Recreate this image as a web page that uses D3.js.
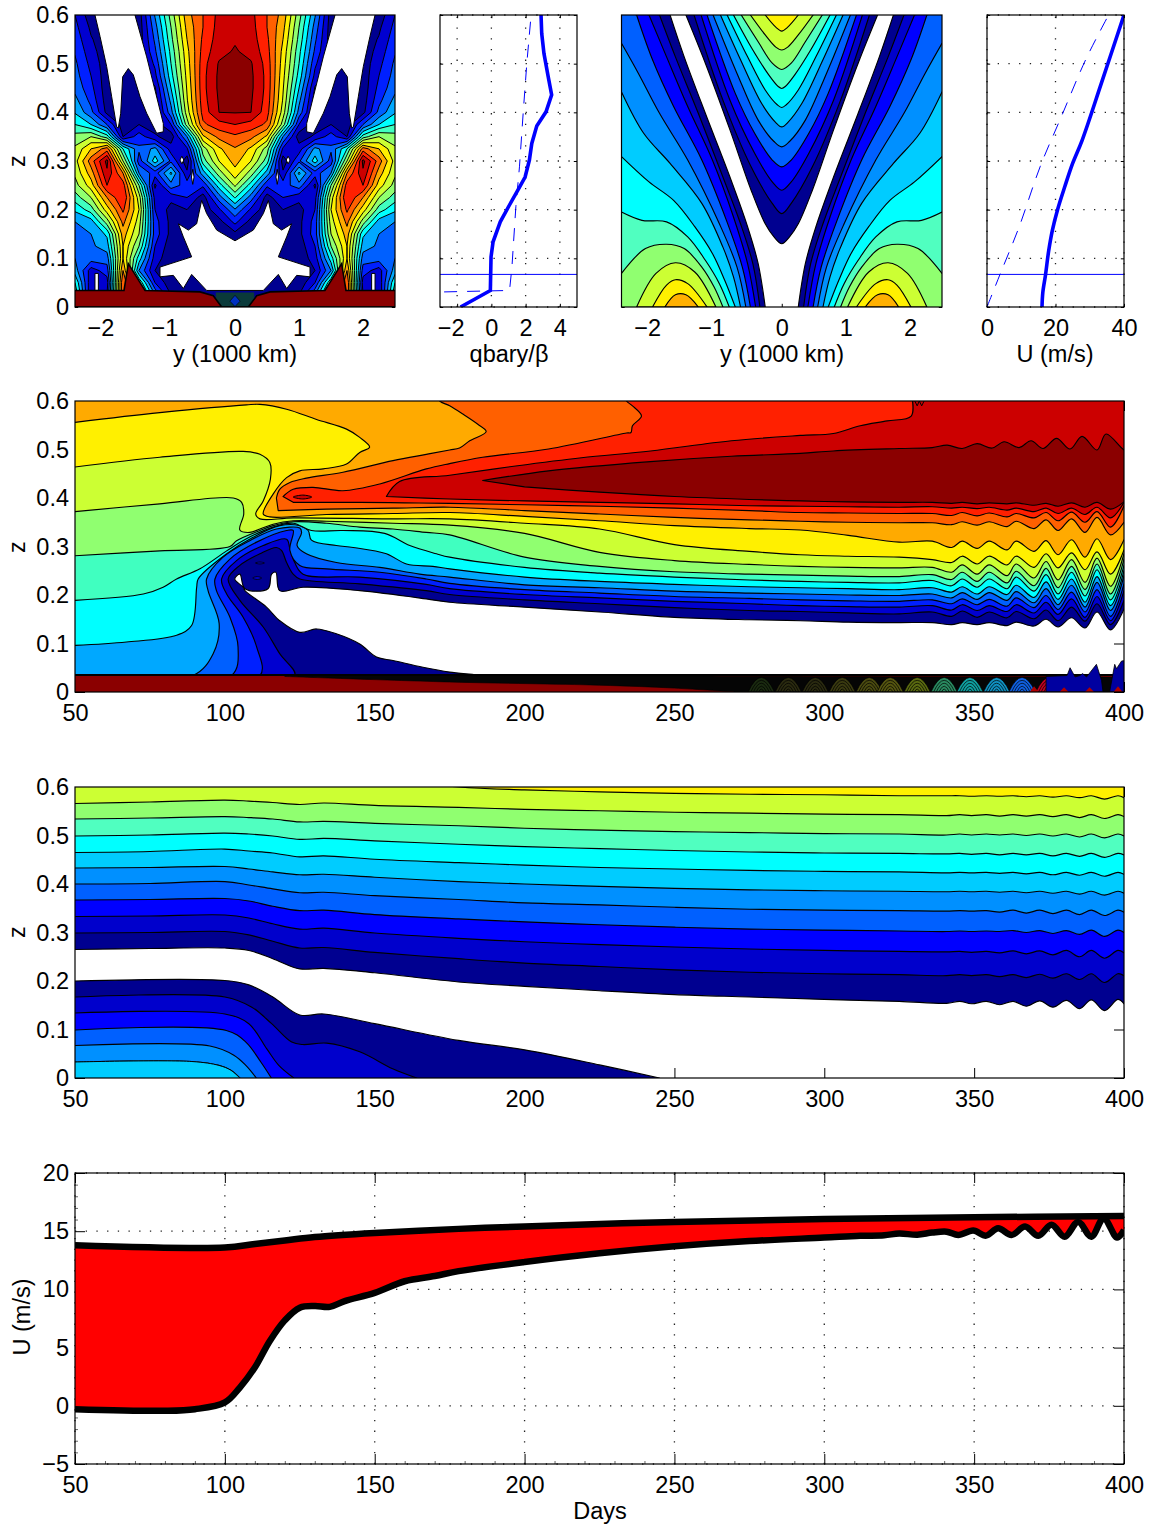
<!DOCTYPE html>
<html><head><meta charset="utf-8">
<script src="https://cdnjs.cloudflare.com/ajax/libs/d3/7.8.5/d3.min.js"></script>
<style>html,body{margin:0;padding:0;background:#fff}svg{display:block}
text{font-family:"Liberation Sans",Arial,sans-serif;fill:#000}</style></head><body>
<svg id="c" width="1152" height="1527"></svg>
<script>
// ---------- palettes ----------
const jetA=['#000090','#0000d0','#0020ff','#0060ff','#00a8ff','#00ffff','#40ffc0','#90ff70','#ccff33','#fff000','#ffaa00','#ff6000','#ff2000','#cc0000','#8b0000'];
const jetB=['#000090','#0000cc','#0000ff','#0060ff','#0090ff','#00ccff','#00ffff','#50ffc0','#90ff70','#ccff33','#fff000','#ffb000'];
// ---------- tick labels ----------
const zTicks=[0,.1,.2,.3,.4,.5,.6], yTicks=[-2,-1,0,1,2], qTicks=[-2,0,2,4], uTicks=[0,20,40];
const dayTicks=[50,100,150,200,250,300,350,400], uTicksG=[-5,0,5,10,15,20];
// ---------- panel A field: contour level at half-domain y (2.5..0) per z row ----------
const fieldAYs=[2.5,2.25,2,1.75,1.5,1.25,1,.75,.5,.25,0];
const fieldAZs=[.025,.05,.075,.1,.125,.15,.175,.2,.225,.25,.275,.3,.325,.35,.375,.4,.425,.45,.475,.5,.525,.55,.575,.6];
const fieldA=[
[8,2,3,13,10,5,2,1.4,1.6,1.3,1.2],
[7,2.2,2.5,13,8,3,1.3,1.3,1.3,1.3,1.2],
[5.5,2.5,3.5,12,5,2,1.3,1.3,1.3,1.3,1.2],
[5,4.5,4.5,11,6.5,2.5,1.3,1.3,1.3,1.3,1.2],
[4.6,4.8,5.5,11,8,3,1.4,1.3,1.3,1.3,1.2],
[4.6,5,6.2,11.5,9,3.5,1.7,1.3,1.2,1.3,1.7],
[5,5.5,8.5,12.3,9.5,3.4,1.7,1.3,1.2,1.6,3.3],
[6.2,7.5,10.5,13.2,10,3,1.6,2,1.3,2.8,4.9],
[7.5,9,12,14,9.5,2.6,2.3,3,1.5,4.5,7.1],
[8.6,10.5,14,13.5,8,1.8,4.6,3.5,3.2,6.5,9.2],
[9.2,11.5,14.8,12,5,3.5,6.2,2.2,5.5,8.5,10.6],
[9.6,12.5,15.3,9,3.5,6.5,3.8,1.4,7.5,10,11.4],
[9.2,11,12.5,7,4.2,5.3,2.5,2.8,8.5,10.8,11.9],
[8.4,9,7.5,2,3.5,2.2,1.4,5,10.8,12.3,12.8],
[7,6,4,1.4,2,1.4,3,8.5,12.8,13.6,14],
[5.9,4.3,1.7,1.3,1.6,1.3,4.6,9.5,13.4,15,15.05],
[5.3,3.7,1.5,1.4,1.4,1.5,5.3,9.9,13.6,15.1,15.3],
[4.7,3.3,1.4,1.4,1.4,1.9,6,10.1,13.7,15.2,15.4],
[4.4,3,1.4,1.4,1.4,2.7,6.6,10.3,13.7,15.2,15.4],
[4.2,2.7,1.4,1.4,1.4,3.2,7,10.5,13.6,15.1,15.3],
[3.9,2.4,1.3,1.3,1.4,3.8,7.3,10.7,13.4,14.7,15.1],
[3.6,2.1,1.3,1.3,1.4,4.2,7.7,11,13.2,14.5,14.9],
[3.3,1.8,1.3,1.3,1.4,4.6,8,11.3,13,14.4,14.7],
[3,1.4,1.3,1.3,1.5,5.1,8.4,11.6,13,14.3,14.6]];
const whiteTongue=[[-2.188,.61],[-2.188,.6],[-2.109,.556],[-2.005,.494],[-1.927,.432],[-1.849,.37],[-1.823,.368],[-1.786,.398],[-1.755,.473],[-1.667,.49],[-1.589,.477],[-1.484,.432],[-1.38,.398],[-1.224,.357],[-1.12,.36],[-1.12,.377],[-1.38,.514],[-1.563,.6],[-1.563,.61]];
const whiteStarHalf=[[0,.136],[-.286,.158],[-.443,.192],[-.521,.219],[-.599,.171],[-.729,.158],[-.885,.171],[-.807,.144],[-.677,.103],[-1.172,.082],[-1.172,.062],[-.964,.065],[-.807,.038],[-.677,.067],[-.443,.034],[0,.034]];
const whiteSmall=[[[-.86,.302],[-.83,.31],[-.8,.302],[-.83,.294]],[[-.68,.267],[-.66,.283],[-.64,.267],[-.66,.252]],[[-2.188,.034],[-2.188,.069],[-2.135,.069],[-2.135,.034]]];
const stripA=[[-2.6,0],[-2.6,.034],[-1.734,.034],[-1.667,.089],[-1.406,.034],[-.547,.031],[-.339,.023],[-.208,0]];
const notchCore=[[0,.024],[-.08,.012],[0,.001],[.08,.012]];
// ---------- panel B / D profiles ----------
const qSolid=[[-1.8,0],[-.06,.034],[-.02,.103],[.1,.134],[.52,.175],[1,.206],[1.53,.239],[1.97,.267],[2.22,.302],[2.36,.336],[2.65,.372],[3.19,.401],[3.52,.436],[3.32,.473],[3.07,.521],[2.94,.562],[2.9,.6]];
const qDash=[[-2.76,.031],[1.06,.034],[1.2,.082],[1.43,.206],[1.64,.288],[1.87,.405],[2.07,.501],[2.32,.6]];
const uSolid=[[16.06,0],[16.3,.03],[17.1,.067],[18,.115],[19.1,.158],[20.6,.2],[22.7,.247],[25,.295],[27.8,.343],[33.4,.46],[40,.6]];
const uDash=[[0,0],[3.8,.067],[9.4,.165],[15.5,.288],[21.7,.391],[28.8,.508],[35.5,.6]];
const zHoriz=.067;
// ---------- panel C contours (left half, mirrored) ----------
const cOuter=[
[[-1.742,.6],[-1.522,.514],[-1.192,.398],[-.808,.267],[-.533,.165],[-.368,.089],[-.258,0]],
[[-1.907,.6],[-1.659,.514],[-1.302,.398],[-.918,.267],[-.643,.171],[-.451,.089],[-.341,0]],
[[-2.071,.6],[-1.797,.514],[-1.467,.412],[-1.082,.302],[-.753,.185],[-.533,.089],[-.407,0]],
[[-2.264,.6],[-2.016,.508],[-1.687,.412],[-1.247,.302],[-.863,.178],[-.615,.082],[-.489,0]],
[[-2.5,.542],[-2.236,.48],[-1.907,.398],[-1.467,.302],[-.973,.171],[-.698,.082],[-.56,0]],
[[-2.5,.442],[-2.154,.357],[-1.742,.295],[-1.247,.213],[-.918,.123],[-.753,.062],[-.643,0]],
[[-2.5,.309],[-2.071,.257],[-1.687,.219],[-1.357,.165],[-1.082,.11],[-.89,.055],[-.725,0]],
[[-2.5,.195],[-2.181,.178],[-1.797,.175],[-1.467,.144],[-1.192,.096],[-.973,.048],[-.819,0]],
[[-2.5,.069],[-2.126,.12],[-1.797,.129],[-1.522,.12],[-1.247,.082],[-1.055,.041],[-.918,0]],
[[-2.264,0],[-1.962,.069],[-1.659,.091],[-1.357,.072],[-1.027,0]],
[[-2.016,0],[-1.797,.045],[-1.659,.056],[-1.467,.048],[-1.165,0]],
[[-1.824,0],[-1.659,.025],[-1.495,.025],[-1.302,0]]];
const cInner=[
[[-1.495,.6],[-1.192,.501],[-.808,.364],[-.478,.24],[-.258,.171],[-.121,.144],[0,.13]],
[[-1.368,.6],[-.918,.425],[-.478,.288],[-.148,.213],[0,.192]],
[[-1.258,.6],[-.808,.425],[-.423,.316],[-.148,.257],[0,.24]],
[[-1.165,.6],[-.725,.439],[-.423,.357],[-.148,.302],[0,.288]],
[[-1.071,.6],[-.698,.48],[-.368,.384],[-.121,.34],[0,.329]],
[[-.956,.6],[-.643,.508],[-.313,.418],[-.093,.379],[0,.37]],
[[-.852,.6],[-.533,.514],[-.258,.446],[-.066,.415],[0,.41]],
[[-.753,.6],[-.451,.528],[-.203,.477],[-.055,.453],[0,.449]],
[[-.632,.6],[-.368,.545],[-.148,.501],[0,.488]],
[[-.489,.6],[-.258,.559],[-.093,.534],[0,.528]],
[[-.258,.6],[-.093,.575],[0,.567]]];
// ---------- panel E contour series ----------
const eDays=[175,200,225,250,275,292,308,325,336,342.5,346,351,355,361,364,370,374,378,382.5,387,391,395.5,400];
const e00=[.185,.175,.165,.154,.149,.147,.144,.143,.143,.139,.143,.139,.143,.137,.144,.136,.150,.134,.153,.132,.165,.128,.171];
const e01=[.201,.190,.182,.174,.168,.166,.163,.161,.165,.156,.167,.154,.165,.153,.166,.151,.169,.147,.175,.146,.182,.139,.189];
const e02=[.213,.201,.194,.187,.182,.178,.176,.175,.178,.169,.180,.168,.178,.166,.180,.163,.185,.160,.192,.154,.197,.147,.209];
const e03=[.224,.211,.204,.197,.193,.190,.188,.187,.190,.182,.192,.180,.191,.177,.194,.174,.199,.170,.206,.165,.211,.156,.223];
const e04=[.237,.221,.215,.208,.204,.202,.200,.199,.202,.194,.205,.191,.205,.189,.207,.184,.213,.180,.220,.175,.226,.168,.240];
const e05=[.254,.237,.228,.222,.217,.215,.213,.211,.215,.206,.217,.202,.217,.201,.220,.195,.227,.191,.233,.185,.238,.178,.250];
const e06=[.278,.257,.245,.237,.231,.228,.226,.225,.230,.219,.233,.216,.233,.213,.237,.208,.242,.202,.247,.198,.252,.190,.261];
const e07=[.324,.278,.259,.248,.243,.241,.239,.238,.242,.232,.247,.228,.247,.225,.249,.219,.255,.215,.259,.211,.264,.202,.274];
const e08=[.344,.327,.288,.271,.263,.259,.257,.256,.257,.247,.262,.243,.262,.240,.264,.235,.269,.231,.273,.226,.276,.218,.285];
const e09=[.357,.348,.336,.304,.290,.283,.280,.278,.273,.267,.280,.264,.280,.262,.280,.257,.285,.256,.287,.252,.289,.243,.293];
const e10=[.370,.362,.353,.343,.337,.334,.323,.309,.311,.298,.311,.296,.311,.293,.311,.290,.312,.283,.314,.278,.316,.273,.314];
const e11=[.381,.374,.367,.360,.355,.352,.350,.349,.349,.345,.351,.344,.351,.341,.352,.337,.355,.333,.357,.329,.360,.324,.350];
const e12=[.389,.386,.383,.379,.374,.370,.369,.368,.368,.364,.370,.363,.369,.361,.368,.359,.370,.353,.371,.350,.372,.340,.384];
const e13=[.398,.394,.391,.388,.384,.383,.382,.381,.382,.379,.381,.378,.381,.375,.379,.372,.379,.368,.379,.366,.381,.359,.391];
const e14=[.423,.412,.403,.397,.394,.392,.391,.391,.389,.391,.388,.390,.388,.390,.385,.389,.383,.390,.381,.391,.377,.392];
const eL00=[[50,.034],[185,.034],[175,.041],[166.1,.051],[156.1,.065],[150.6,.072],[145,.099],[137.2,.12],[130.6,.13],[125,.123],[118.3,.147],[113.9,.175],[106.7,.209],[106.1,.216],[103.3,.233],[105,.243],[106.7,.213],[114.4,.213],[115.6,.243],[117,.247],[118.3,.209],[126.1,.216],[145,.209],[167.2,.192]];
const eL01=[[50,.034],[123.3,.034],[118.3,.079],[112.8,.134],[105,.189],[101.1,.233],[105,.261],[111.7,.285],[117.2,.298],[118.9,.292],[120.6,.267],[122.8,.243],[125,.233],[145,.223],[167.2,.209]];
const eL02=[[50,.034],[111.7,.034],[110.6,.093],[106.1,.154],[100.6,.202],[98.9,.233],[103.9,.271],[112.8,.302],[120.6,.315],[121.7,.295],[123.3,.267],[126.1,.243],[145,.237],[167.2,.222]];
const eL03=[[50,.034],[102.2,.034],[104.4,.093],[101.7,.154],[97.2,.209],[96.7,.233],[101.7,.274],[110.6,.309],[120.6,.333],[122.8,.333],[121.7,.292],[125,.261],[133.9,.254],[151.7,.247],[167.2,.233]];
const eL04=[[50,.034],[89.4,.034],[96.1,.079],[98.1,.141],[94.4,.209],[93.9,.233],[99.4,.278],[108.3,.312],[117.2,.336],[125,.338],[125.6,.329],[124.1,.302],[127.2,.285],[137.2,.267],[151.7,.257],[165,.243]];
const eL05=[[50,.096],[67.2,.103],[83.9,.117],[88.9,.137],[90.6,.216],[91.1,.233],[100.6,.285],[109.4,.319],[118.3,.343],[125,.343],[127.8,.333],[128.9,.313],[137.2,.302],[142.8,.298],[153.9,.285],[160.6,.264],[169.4,.259]];
const eL06=[[50,.189],[72.8,.202],[79.4,.216],[83.9,.233],[91.7,.254],[100.6,.291],[107.2,.316],[116.1,.34],[122.8,.348],[128.9,.333],[139.4,.333],[153.3,.327],[161.7,.302],[170.6,.285]];
const eL07=[[50,.281],[78.3,.291],[101.7,.3],[103.9,.312],[111.7,.333],[116.1,.343],[122.8,.351],[133.9,.348],[145,.34],[156.1,.336],[167.2,.329]];
const eL08=[[50,.372],[78.3,.388],[102.8,.4],[105.6,.391],[106.3,.367],[105,.334],[108.3,.329],[111.7,.336],[116.1,.346],[122.8,.353],[133.9,.352],[156.1,.348]];
const eL09=[[50,.464],[78.3,.484],[106.1,.496],[111.7,.49],[115,.473],[115.2,.439],[112.8,.394],[110.3,.367],[111.7,.357],[122.8,.359],[156.1,.357]];
const eL10=[[50,.556],[78.3,.576],[107.2,.592],[111.7,.593],[120.6,.583],[130.6,.562],[140.6,.542],[145,.525],[148.3,.505],[145,.494],[140.6,.47],[132.8,.46],[125,.456],[120.6,.442],[116.1,.408],[112.8,.367],[115,.361],[133.9,.366],[156.1,.368]];
const eUp11=[[117.2,.4],[118.3,.418],[121.7,.432],[127.2,.441],[139.4,.453],[156.1,.477],[167.2,.49],[175,.499],[178.3,.503],[181.7,.518],[187.2,.537],[184.4,.552],[179.4,.573],[175,.59],[171.7,.6],[171,.61]];
const eLo11=[[117.8,.374],[133.9,.377],[156.1,.379]];
const eUp12=[[119.4,.403],[122.8,.418],[129.4,.422],[139.4,.415],[151.7,.429],[167.2,.46],[175,.471],[186,.484],[208,.501],[234,.534],[235.5,.535],[236,.549],[239,.569],[236,.59],[234,.6],[233.5,.61]];
const eLo12=[[122.8,.391],[145,.391],[160,.39]];
const eUp13=[[153.9,.403],[158.3,.434],[175,.447],[197,.466],[219,.483],[242,.497],[269,.518],[292,.529],[303,.533],[312,.549],[321,.559],[329,.569],[329.2,.61]];
const eUp14=[[186,.436],[208,.456],[242,.475],[269,.486],[292,.492],[303,.497],[325,.502],[336,.504],[341,.509],[346,.502],[351,.512],[356,.503],[360,.516],[365,.504],[369,.518],[373,.502],[377.5,.523],[382,.501],[386,.527],[391,.499],[394,.532],[400,.499],[401,.499]];
const eIsland=[[122.8,.402],[126,.406],[129,.402],[126,.398]];
const ePockets=[[[110.2,.266],[111.7,.268],[113.2,.266],[111.7,.264]],[[109.3,.235],[110.8,.238],[112.3,.235],[110.8,.232]]];
const eJag=[[330.2,.6],[331,.59],[331.7,.6],[332.5,.59],[333.3,.6]];
const eWedgeUp=[[120,.034],[175,.034],[250,.033],[300,.032],[400,.031]];
const eWedgeLo=[[120,.032],[175,.0206],[225,.014],[250,.008],[270,0]];
const archDays=[279,288,297,306,315,322,331,340,348.6,357.5,366,375];
const archColors=['#1a2a10','#2a2a10','#2a2a10','#3a3a10','#4a4a10','#555510','#5a6a10','#2a8a60','#10a0a0','#1090c0','#1060e0','#c00020'];
const eSpikes=[[374,.032],[381,.034],[382,.05],[383.7,.031],[385.3,.034],[386.2,.038],[387.5,.031],[390.8,.057],[392.5,.024],[393,0],[395.2,0],[396.9,.057],[397.5,.048],[399.2,.064],[401,.065],[401,0],[374,0]];
const eRed=[[370,.012],[380,.010],[388.5,.010],[398,.012]];
// ---------- panel F contour series ----------
const fDays=[50,75,100,108,116,125,133,150,178,200,225,250,275,300,325,340.8,345.2,349.1,354.1,358.5,363,367.4,371.9,376.3,380.8,385.2,389.1,393.5,398,400];
const f00=[.265,.267,.268,.263,.246,.225,.226,.217,.198,.189,.180,.172,.167,.162,.158,.154,.158,.153,.158,.151,.158,.148,.159,.146,.160,.143,.161,.139,.162,.153];
const f01=[.299,.300,.302,.295,.282,.268,.269,.259,.246,.237,.230,.223,.218,.215,.213,.211,.213,.211,.213,.209,.213,.207,.214,.206,.215,.203,.215,.197,.215,.211];
const f02=[.333,.334,.336,.330,.318,.307,.309,.299,.288,.281,.275,.270,.266,.263,.261,.260,.261,.259,.261,.258,.262,.256,.262,.254,.263,.250,.263,.247,.263,.258];
const f03=[.367,.368,.370,.365,.354,.345,.346,.337,.328,.322,.316,.311,.307,.305,.303,.302,.303,.302,.303,.302,.304,.300,.304,.298,.304,.296,.305,.292,.305,.300];
const f04=[.400,.401,.405,.398,.390,.382,.383,.376,.368,.361,.357,.352,.348,.346,.345,.344,.345,.344,.345,.342,.346,.340,.346,.339,.346,.337,.346,.335,.346,.342];
const f05=[.433,.434,.436,.431,.425,.419,.420,.414,.405,.400,.395,.391,.388,.386,.385,.384,.385,.384,.385,.383,.385,.382,.385,.381,.385,.379,.385,.377,.385,.381];
const f06=[.465,.467,.472,.468,.464,.456,.458,.451,.444,.439,.434,.431,.428,.426,.425,.423,.424,.423,.424,.422,.424,.421,.424,.419,.424,.418,.424,.416,.424,.420];
const f07=[.499,.501,.505,.503,.499,.492,.494,.489,.482,.477,.473,.469,.466,.464,.463,.462,.463,.461,.463,.460,.463,.460,.463,.458,.463,.457,.463,.455,.463,.460];
const f08=[.534,.536,.539,.537,.534,.528,.529,.525,.520,.515,.511,.508,.506,.504,.503,.501,.503,.501,.503,.501,.503,.500,.503,.499,.503,.497,.503,.495,.503,.499];
const f09=[.566,.569,.573,.571,.568,.564,.567,.562,.558,.554,.551,.548,.546,.544,.543,.541,.543,.541,.543,.540,.543,.540,.543,.539,.543,.537,.543,.535,.543,.539];
const f10=[.64,.64,.64,.64,.64,.64,.63,.62,.600,.594,.590,.587,.585,.584,.582,.582,.582,.581,.582,.581,.582,.580,.582,.579,.582,.578,.582,.575,.582,.578];
const fLow=[
[[50,.2],[100,.201],[108,.192],[116,.167],[125,.13],[133,.132],[150,.112],[178,.0775],[200,.058],[225,.027],[245,0]],
[[50,.167],[100,.167],[109,.146],[115.6,.112],[122.3,.074],[126,.069],[134,.072],[145,.054],[156,.019],[164,0]],
[[50,.134],[100,.132],[108,.112],[114,.06],[118,.026],[123,0]],
[[50,.099],[100.5,.098],[107,.074],[112,.033],[115.5,0]],
[[50,.067],[95,.066],[103,.047],[107,.026],[110.5,0]],
[[50,.033],[89,.034],[98,.026],[102,.016],[105,0]]];
// ---------- panel G series ----------
const gUpDays=[50,100,110,120,130,150,178,200,250,300,350,400];
const gUp=[13.8,13.6,13.9,14.2,14.5,14.85,15.2,15.4,15.8,16.05,16.2,16.3];
const gLoDays=[50,80,90,100,105,110,115,120,125,130,135,140,150,160,170,178,200,225,250,275,300,312,320,325,331,336,340.8,344.7,349.7,354,358,362.5,367,371.4,375.8,380.2,384.7,389.1,393.2,397.7,400];
const gLo=[-.29,-.43,-.29,.29,1.57,3.29,5.57,7.34,8.43,8.57,8.5,9,9.7,10.7,11.15,11.57,12.35,13.1,13.7,14.15,14.45,14.6,14.65,14.8,14.7,14.88,14.96,14.67,15.05,14.62,15.25,14.67,15.4,14.6,15.55,14.53,15.8,14.53,16.1,14.45,15.1];
const minorG=[-4,-3,-2,-1,1,2,3,4,6,7,8,9,11,12,13,14,16,17,18,19], minorDays=[60,70,80,90,110,120,130,140,160,170,180,190,210,220,230,240,260,270,280,290,310,320,330,340,360,370,380,390];

// ---------- helpers ----------
const svg=d3.select('#c');
const FS=23.5;
let clipId=0;
const fmt=d=>String(d).replace('-','\u2212');
function panel(px0,px1,py0,py1,xd,yd,xt,yt,o){
  o=o||{};
  const x=d3.scaleLinear().domain(xd).range([px0,px1]);
  const y=d3.scaleLinear().domain(yd).range([py1,py0]);
  const g=svg.append('g');
  const W=px1-px0,H=py1-py0,tl=o.tick||3.2;
  function style(a){a.selectAll('path').attr('stroke','none');a.selectAll('line').attr('stroke','#000').attr('stroke-width',1);
    a.selectAll('text').attr('font-family','"Liberation Sans",Arial,sans-serif').attr('font-size',FS).attr('fill','#000');}
  if(o.grid){
    const gg=g.append('g').attr('stroke','#222').attr('stroke-width',1.3).attr('stroke-dasharray','1.3 9.4');
    gg.selectAll('.gx').data(xt).join('line').attr('x1',d=>x(d)).attr('x2',d=>x(d)).attr('y1',py1).attr('y2',py0);
    gg.selectAll('.gy').data(yt).join('line').attr('x1',px0).attr('x2',px1).attr('y1',d=>y(d)).attr('y2',d=>y(d));
  }
  const mk=(ax,tr,vals,f,pad,len)=>{const a=g.append('g').attr('transform',tr).call(ax.tickValues(vals).tickSize(-len).tickPadding(pad).tickFormat(f));style(a);return a;};
  const bot=mk(d3.axisBottom(x),`translate(0,${py1})`,xt,fmt,12,tl);
  bot.selectAll('text').attr('dx',d=>d<0?-6.5:0);
  mk(d3.axisTop(x),`translate(0,${py0})`,xt,()=>'',0,tl);
  mk(d3.axisLeft(y),`translate(${px0},0)`,yt,(o.noY?()=>'':fmt),6,tl);
  mk(d3.axisRight(y),`translate(${px1},0)`,yt,()=>'',0,tl);
  if(o.minorX){
    const a=g.append('g').attr('transform',`translate(0,${py1})`).call(d3.axisBottom(x).tickValues(o.minorX).tickSize(-3).tickFormat(()=>''));
    style(a);a.selectAll('line').attr('stroke','#666');
    const b=g.append('g').attr('transform',`translate(${px0},0)`).call(d3.axisLeft(y).tickValues(o.minorY).tickSize(-3).tickFormat(()=>''));
    style(b);b.selectAll('line').attr('stroke','#666');
  }
  const id='clip'+(clipId++);
  svg.select('defs').empty()&&svg.insert('defs',':first-child');
  svg.select('defs').append('clipPath').attr('id',id).append('rect').attr('x',px0).attr('y',py0).attr('width',W).attr('height',H);
  const plot=g.append('g').attr('clip-path',`url(#${id})`);
  const box=()=>g.append('rect').attr('x',px0).attr('y',py0).attr('width',W).attr('height',H).attr('fill','none').attr('stroke','#000').attr('stroke-width',1.2);
  return {x,y,g,plot,box};
}
function label(t,xp,yp,rot){
  const e=svg.append('text').attr('font-size',FS).attr('text-anchor','middle').text(t);
  if(rot) e.attr('transform',`translate(${xp},${yp}) rotate(-90)`); else e.attr('x',xp).attr('y',yp);
}
const zip=(xs,ys)=>xs.map((d,i)=>[d,ys[i]]);
const lineOf=(P,c)=>d3.line().x(d=>P.x(d[0])).y(d=>P.y(d[1])).curve(c||d3.curveCatmullRom.alpha(.5));
function joined(P,segs){
  return segs.map((s,i)=>{const cur=s.length<3?d3.curveLinear:undefined;const t=lineOf(P,cur)(s);return i?t.replace(/^M/,'L'):t;}).join('')+'Z';
}
function band(P,d,fill,sw){P.plot.append('path').attr('d',d).attr('fill',fill).attr('stroke','#000').attr('stroke-width',sw||1.15).attr('stroke-linejoin','round');}

// ---------- Panel A ----------
{
 const P=panel(75,395,15,307,[-2.5,2.5],[0,.6],yTicks,zTicks);
 const full=fieldA.map(r=>r.concat(r.slice(0,-1).reverse()));
 const nx=full[0].length,ny=full.length,dy=fieldAYs[0]-fieldAYs[1],dz=fieldAZs[1]-fieldAZs[0];
 const values=full.flat();
 const path=d3.geoPath(d3.geoTransform({point(a,b){this.stream.point(P.x(-fieldAYs[0]+(a-.5)*dy),P.y(fieldAZs[0]+(b-.5)*dz));}}));
 const cs=d3.contours().size([nx,ny]).thresholds(d3.range(1,16))(values);
 P.plot.selectAll('.c').data(cs).join('path').attr('d',path).attr('fill',(d,i)=>jetA[i]).attr('stroke','#000').attr('stroke-width',1).attr('stroke-linejoin','round');
 const L=lineOf(P,d3.curveLinear);
 const mir=a=>a.map(d=>[-d[0],d[1]]);
 [whiteTongue,mir(whiteTongue),...whiteSmall,...whiteSmall.map(mir)].forEach(p=>band(P,L(p)+'Z','#fff',1));
 band(P,L([...whiteStarHalf,...mir(whiteStarHalf).reverse()])+'Z','#fff',1);
 const strip=[...stripA,...stripA.slice().reverse().map(d=>[-d[0],d[1]])];
 P.plot.append('path').attr('d',`M${P.x(-.3)},${P.y(0)}H${P.x(.3)}V${P.y(.03)}H${P.x(-.3)}Z`).attr('fill','#0a3a3a');
 P.plot.append('path').attr('d',L(strip)+'Z').attr('fill','#8b0000').attr('stroke','#000').attr('stroke-width',1.6);
 P.plot.append('path').attr('d',L(notchCore)+'Z').attr('fill','#0030c0').attr('stroke','#000').attr('stroke-width',.6);
 P.box();
}
// ---------- Panel B ----------
{
 const P=panel(440,577,15,307,[-3,5],[0,.6],qTicks,zTicks,{grid:true,noY:true});
 const L=lineOf(P,d3.curveLinear);
 P.plot.append('path').attr('d',L(qDash)).attr('fill','none').attr('stroke','#0000ff').attr('stroke-width',1).attr('stroke-dasharray','13 10');
 P.plot.append('line').attr('x1',P.x(-3)).attr('x2',P.x(5)).attr('y1',P.y(zHoriz)).attr('y2',P.y(zHoriz)).attr('stroke','#0000ff').attr('stroke-width',1);
 P.plot.append('path').attr('d',L(qSolid)).attr('fill','none').attr('stroke','#0000ff').attr('stroke-width',3.6);
 P.box();
}
// ---------- Panel C ----------
{
 const P=panel(621.5,942,15,307,[-2.5,2.5],[0,.6],yTicks,zTicks,{noY:true});
 const draw=(c,col,side)=>{
   const pts=c.map(d=>[d[0]*side,d[1]]);
   const first=pts[0],e=-2.7*side;
   let segs;
   if(c[0][1]===0){ segs=[pts]; }
   else { segs=[pts,[[pts[pts.length-1][0],-.01],[e,-.01]],[[e,first[1]+(first[1]>=.6?.02:0)],first]]; }
   band(P,joined(P,segs),col);
 };
 cOuter.forEach((c,i)=>{draw(c,jetB[i],1);draw(c,jetB[i],-1);});
 cInner.forEach((c,i)=>{
   const m=c.slice(0,-1).reverse().map(d=>[-d[0],d[1]]);
   const pts=[...c,...m];
   band(P,joined(P,[pts,[[-pts[0][0],.62],[pts[0][0],.62]]]),jetB[i]);
 });
 P.box();
}
// ---------- Panel D ----------
{
 const P=panel(987,1124,15,307,[0,40],[0,.6],uTicks,zTicks,{grid:true,noY:true});
 const L=lineOf(P);
 P.plot.append('path').attr('d',L(uDash)).attr('fill','none').attr('stroke','#0000ff').attr('stroke-width',1).attr('stroke-dasharray','13 10');
 P.plot.append('line').attr('x1',P.x(0)).attr('x2',P.x(40)).attr('y1',P.y(zHoriz)).attr('y2',P.y(zHoriz)).attr('stroke','#0000ff').attr('stroke-width',1);
 P.plot.append('path').attr('d',L(uSolid)).attr('fill','none').attr('stroke','#0000ff').attr('stroke-width',3.6);
 P.box();
}
// ---------- Panel E ----------
{
 const P=panel(75,1124,401,692,[50,400],[0,.6],dayTicks,zTicks,{tick:10});
 const sets=[[eL00,e00],[eL01,e01],[eL02,e02],[eL03,e03],[eL04,e04],[eL05,e05],[eL06,e06],[eL07,e07],[eL08,e08],[eL09,e09],[eL10,e10]];
 sets.forEach(([l,r],i)=>{
   const pts=[...l,...zip(eDays,r)];
   const end=[[401,r[r.length-1]],[401,.62],[49.5,.62],[49.5,l[0][1]]];
   band(P,lineOf(P)(pts)+end.map(d=>`L${P.x(d[0])},${P.y(d[1])}`).join('')+'Z',jetA[i]);
 });
 const closed=(up,low,col)=>{
   const rev=low.slice().reverse();
   band(P,joined(P,[up,[up[up.length-1],[402,.62]],[[402,.62],[402,rev[0][1]]],rev]),col);
 };
 closed(eUp11,[...eLo11,...zip(eDays,e11)],jetA[11]);
 closed(eUp12,[...eLo12,...zip(eDays,e12)],jetA[12]);
 closed(eUp13,[eUp13[0],...zip(eDays,e13)],jetA[13]);
 const lower=zip(eDays.slice(1),e14);
 band(P,joined(P,[eUp14,[[402,eUp14[eUp14.length-1][1]],[402,lower[lower.length-1][1]]],lower.slice().reverse(),[[186,.436],[186,.436]]]),jetA[14]);
 band(P,lineOf(P,d3.curveCardinalClosed)(eIsland),jetA[13],1);
 ePockets.forEach(p=>band(P,lineOf(P,d3.curveCardinalClosed)(p),jetA[1],.8));
 P.plot.append('path').attr('d',lineOf(P,d3.curveLinear)(eJag)).attr('fill','none').attr('stroke','#000').attr('stroke-width',1);
 // bottom strip
 P.plot.append('rect').attr('x',P.x(50)).attr('width',P.x(400)-P.x(50)).attr('y',P.y(.035)).attr('height',P.y(0)-P.y(.035)).attr('fill','#8b0000');
 band(P,joined(P,[eWedgeUp,[[400,.031],[400,0],[270,0]],eWedgeLo.slice().reverse()]),'#050505',.6);
 P.plot.append('line').attr('x1',P.x(50)).attr('x2',P.x(400)).attr('y1',P.y(.035)).attr('y2',P.y(.035)).attr('stroke','#000').attr('stroke-width',2);
 const arch=P.plot.append('g');
 archDays.forEach((d,i)=>{
   [1,.8,.6,.4,.2].forEach(k=>{
     const w=4.4*k,h=.03*k;
     arch.append('path').attr('d',`M${P.x(d-w)},${P.y(0)}Q${P.x(d)},${P.y(2*h)} ${P.x(d+w)},${P.y(0)}Z`)
       .attr('fill',archColors[i]).attr('stroke','#000').attr('stroke-width',.7);
   });
 });
 band(P,lineOf(P,d3.curveLinear)(eSpikes)+'Z','#0000a0',.8);
 eRed.forEach(d=>P.plot.append('path').attr('d',lineOf(P,d3.curveLinear)([[d[0]-1.5,0],[d[0],d[1]],[d[0]+1.5,0]])+'Z').attr('fill','#b00000'));
 P.box();
}
// ---------- Panel F ----------
{
 const P=panel(75,1124,787,1078,[50,400],[0,.6],dayTicks,zTicks,{tick:10});
 const ups=[f00,f01,f02,f03,f04,f05,f06,f07,f08,f09,f10];
 ups.forEach((s,i)=>{
   const pts=zip(fDays,s);
   band(P,lineOf(P)(pts)+[[402,s[s.length-1]],[402,.7],[48,.7],[48,s[0]]].map(d=>`L${P.x(d[0])},${P.y(d[1])}`).join('')+'Z',jetB[i]);
 });
 fLow.forEach((s,i)=>{
   const last=s[s.length-1];
   band(P,lineOf(P)(s)+[[last[0],-.02],[48,-.02],[48,s[0][1]]].map(d=>`L${P.x(d[0])},${P.y(d[1])}`).join('')+'Z',jetB[i]);
 });
 P.plot.append('path').attr('d',(()=>{const c=fLow[5];return lineOf(P)(c)+[[c[c.length-1][0],-.02],[48,-.02],[48,c[0][1]]].map(d=>`L${P.x(d[0])},${P.y(d[1])}`).join('')+'Z';})()).attr('fill',jetB[5]).attr('stroke','#000');
 P.box();
}
// ---------- Panel G ----------
{
 const P=panel(75,1124,1173,1464,[50,400],[-5,20],dayTicks,uTicksG,{grid:true,tick:10,minorX:minorDays,minorY:minorG});
 const up=zip(gUpDays,gUp),lo=zip(gLoDays,gLo);
 const L=lineOf(P);
 P.plot.append('path').attr('d',L(up)+L(lo.slice().reverse()).replace(/^M/,'L')+'Z').attr('fill','#ff0000');
 [up,lo].forEach(s=>P.plot.append('path').attr('d',L(s)).attr('fill','none').attr('stroke','#000').attr('stroke-width',6.5).attr('stroke-linejoin','round'));
 P.box();
}
// ---------- labels ----------
label('z',25,161,true); label('y (1000 km)',235,362); label('qbary/\u03B2',509,362);
label('y (1000 km)',782,362); label('U (m/s)',1055,362);
label('z',25,547,true); label('z',25,932,true); label('U (m/s)',30,1317,true); label('Days',600,1519);
</script></body></html>
